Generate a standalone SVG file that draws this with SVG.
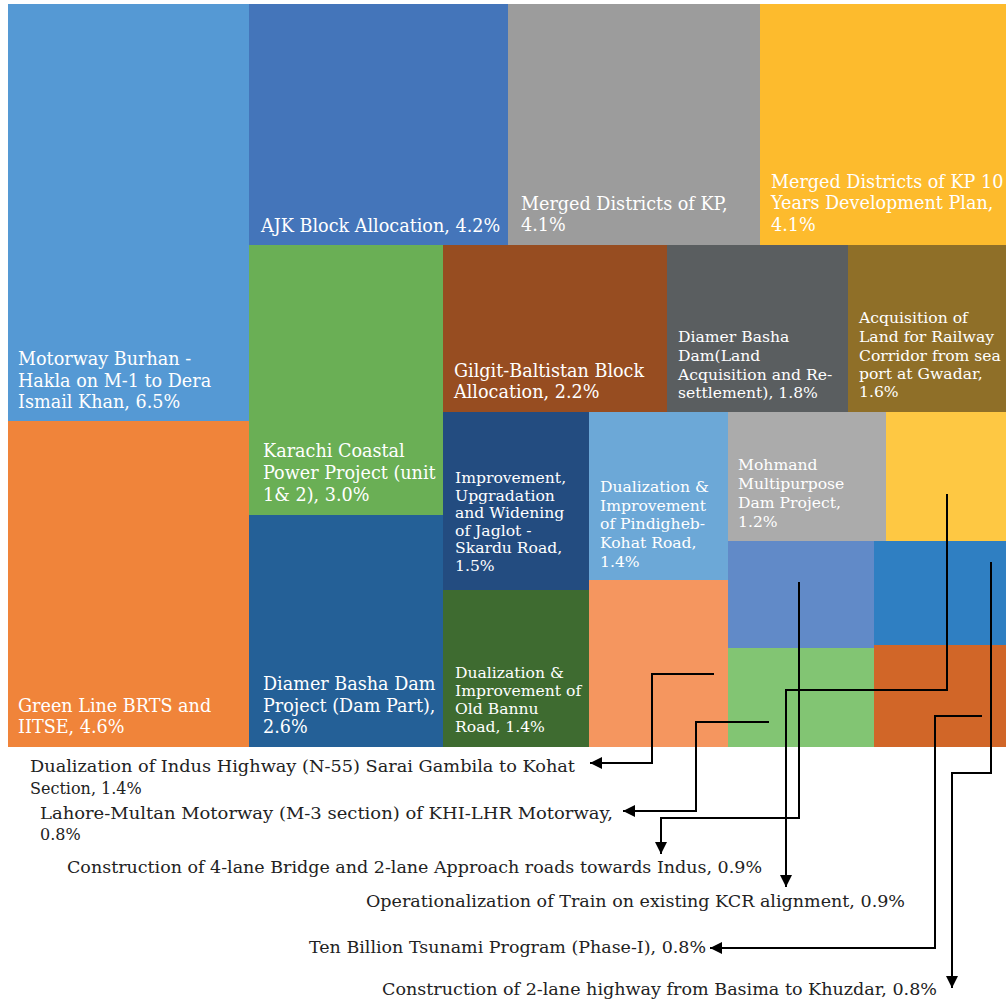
<svg xmlns="http://www.w3.org/2000/svg" width="1006" height="1005" viewBox="0 0 1006 1005">
<style>
.t{font-family:"DejaVu Serif","Liberation Serif",serif;fill:#ffffff;font-size:17.6px}
.s{font-family:"DejaVu Serif","Liberation Serif",serif;fill:#ffffff;font-size:15.6px}
.x{font-family:"DejaVu Serif","Liberation Serif",serif;fill:#222222;font-size:16px}
.c{fill:none;stroke:#000000;stroke-width:2}
</style>
<defs>
<marker id="ah" markerUnits="userSpaceOnUse" markerWidth="14" markerHeight="12" refX="12" refY="6" orient="auto">
<path d="M0,0 L12,6 L0,12 z" fill="#000000"/>
</marker>
</defs>
<rect width="1006" height="1005" fill="#ffffff"/>
<g id="motorway-burhan"><rect x="8" y="4" width="241" height="417" fill="#5599D4"/>
<text class="t"><tspan x="18" y="365">Motorway Burhan -</tspan><tspan x="18" y="387">Hakla on M-1 to Dera</tspan><tspan x="18" y="408">Ismail Khan, 6.5%</tspan></text></g>
<g id="green-line"><rect x="8" y="421" width="241" height="326" fill="#F0843A"/>
<text class="t"><tspan x="18" y="712">Green Line BRTS and</tspan><tspan x="18" y="733">IITSE, 4.6%</tspan></text></g>
<g id="ajk"><rect x="249" y="4" width="259" height="241" fill="#4475BA"/>
<text class="t"><tspan x="261" y="232">AJK Block Allocation, 4.2%</tspan></text></g>
<g id="merged-kp"><rect x="508" y="4" width="252" height="241" fill="#9C9C9C"/>
<text class="t"><tspan x="521" y="210">Merged Districts of KP,</tspan><tspan x="521" y="231">4.1%</tspan></text></g>
<g id="merged-kp-10"><rect x="760" y="4" width="246" height="241" fill="#FDBB2D"/>
<text class="t"><tspan x="771" y="188">Merged Districts of KP 10</tspan><tspan x="771" y="209">Years Development Plan,</tspan><tspan x="771" y="231">4.1%</tspan></text></g>
<g id="karachi"><rect x="249" y="245" width="194" height="270" fill="#6AAF55"/>
<text class="t"><tspan x="263" y="457">Karachi Coastal</tspan><tspan x="263" y="479">Power Project (unit</tspan><tspan x="263" y="501">1&amp; 2), 3.0%</tspan></text></g>
<g id="diamer-dam"><rect x="249" y="515" width="194" height="232" fill="#246097"/>
<text class="t"><tspan x="263" y="690">Diamer Basha Dam</tspan><tspan x="263" y="712">Project (Dam Part),</tspan><tspan x="263" y="733">2.6%</tspan></text></g>
<g id="gilgit"><rect x="443" y="245" width="224" height="167" fill="#974D21"/>
<text class="t"><tspan x="454" y="377">Gilgit-Baltistan Block</tspan><tspan x="454" y="398">Allocation, 2.2%</tspan></text></g>
<g id="diamer-land"><rect x="667" y="245" width="181" height="167" fill="#5A5E60"/>
<text class="s"><tspan x="678" y="342">Diamer Basha</tspan><tspan x="678" y="361">Dam(Land</tspan><tspan x="678" y="380">Acquisition and Re-</tspan><tspan x="678" y="398">settlement), 1.8%</tspan></text></g>
<g id="acquisition"><rect x="848" y="245" width="158" height="167" fill="#8F6F28"/>
<text class="s"><tspan x="859" y="323">Acquisition of</tspan><tspan x="859" y="342">Land for Railway</tspan><tspan x="859" y="361">Corridor from sea</tspan><tspan x="859" y="379">port at Gwadar,</tspan><tspan x="859" y="397">1.6%</tspan></text></g>
<g id="jaglot"><rect x="443" y="412" width="146" height="178" fill="#234C80"/>
<text class="s"><tspan x="455" y="483">Improvement,</tspan><tspan x="455" y="501">Upgradation</tspan><tspan x="455" y="518">and Widening</tspan><tspan x="455" y="536">of Jaglot -</tspan><tspan x="455" y="553">Skardu Road,</tspan><tspan x="455" y="571">1.5%</tspan></text></g>
<g id="old-bannu"><rect x="443" y="590" width="146" height="157" fill="#3E6B30"/>
<text class="s"><tspan x="455" y="678">Dualization &amp;</tspan><tspan x="455" y="696">Improvement of</tspan><tspan x="455" y="714">Old Bannu</tspan><tspan x="455" y="732">Road, 1.4%</tspan></text></g>
<g id="pindigheb"><rect x="589" y="412" width="139" height="168" fill="#6CA8D7"/>
<text class="s"><tspan x="600" y="492">Dualization &amp;</tspan><tspan x="600" y="511">Improvement</tspan><tspan x="600" y="529">of Pindigheb-</tspan><tspan x="600" y="548">Kohat Road,</tspan><tspan x="600" y="567">1.4%</tspan></text></g>
<g id="mohmand"><rect x="728" y="412" width="158" height="129" fill="#ABABAB"/>
<text class="s"><tspan x="738" y="470">Mohmand</tspan><tspan x="738" y="489">Multipurpose</tspan><tspan x="738" y="508">Dam Project,</tspan><tspan x="738" y="527">1.2%</tspan></text></g>
<g id="kcr-train"><rect x="886" y="412" width="120" height="129" fill="#FEC843"/></g>
<g id="indus-highway"><rect x="589" y="580" width="139" height="167" fill="#F5965F"/></g>
<g id="bridge-indus"><rect x="728" y="541" width="146" height="107" fill="#618AC8"/></g>
<g id="lahore-multan"><rect x="728" y="648" width="146" height="99" fill="#82C573"/></g>
<g id="basima-khuzdar"><rect x="874" y="541" width="132" height="104" fill="#2F7FC2"/></g>
<g id="ten-billion"><rect x="874" y="645" width="132" height="102" fill="#D16628"/></g>
<g id="connectors">
<path class="c" d="M714,674 H652 V763 H590" marker-end="url(#ah)"/>
<path class="c" d="M769,722 H696 V811 H623" marker-end="url(#ah)"/>
<path class="c" d="M799,582 V818 H661 V854" marker-end="url(#ah)"/>
<path class="c" d="M947,494 V690 H786 V887" marker-end="url(#ah)"/>
<path class="c" d="M982,716 H935 V948 H710" marker-end="url(#ah)"/>
<path class="c" d="M991,562 V773 H952 V988" marker-end="url(#ah)"/>
</g>
<g id="labels">
<text class="x"><tspan x="30" y="772" textLength="545" lengthAdjust="spacingAndGlyphs">Dualization of Indus Highway (N-55) Sarai Gambila to Kohat</tspan><tspan x="30" y="794">Section, 1.4%</tspan></text>
<text class="x"><tspan x="40" y="819" textLength="573" lengthAdjust="spacingAndGlyphs">Lahore-Multan Motorway (M-3 section) of KHI-LHR Motorway,</tspan><tspan x="40" y="840">0.8%</tspan></text>
<text class="x" x="67" y="873" textLength="695" lengthAdjust="spacingAndGlyphs">Construction of 4-lane Bridge and 2-lane Approach roads towards Indus, 0.9%</text>
<text class="x" x="366" y="907" textLength="539" lengthAdjust="spacingAndGlyphs">Operationalization of Train on existing KCR alignment, 0.9%</text>
<text class="x" x="309" y="953" textLength="397" lengthAdjust="spacingAndGlyphs">Ten Billion Tsunami Program (Phase-I), 0.8%</text>
<text class="x" x="382" y="995" textLength="555" lengthAdjust="spacingAndGlyphs">Construction of 2-lane highway from Basima to Khuzdar, 0.8%</text>
</g>
</svg>
